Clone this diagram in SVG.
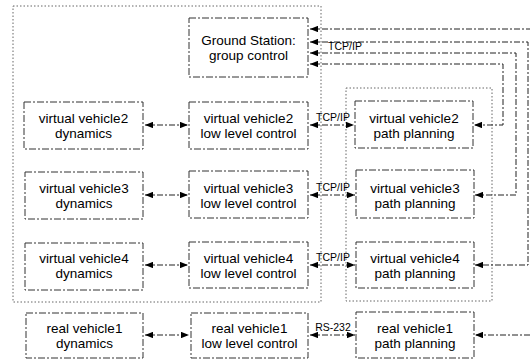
<svg xmlns="http://www.w3.org/2000/svg" width="530" height="360" viewBox="0 0 530 360">
<style>
.bg{fill:#fff}
.box{fill:#fff;stroke:#333;stroke-width:1;stroke-dasharray:7 2 2 2}
.grp{fill:none;stroke:#666;stroke-width:1;stroke-dasharray:1.5 2}
.lbl{font-family:"Liberation Sans",Arial,Helvetica,sans-serif;font-size:13.5px;fill:#000;text-anchor:middle}
.sm{font-family:"Liberation Sans",Arial,Helvetica,sans-serif;font-size:10.5px;fill:#000;text-anchor:middle}
.con{fill:none;stroke:#222;stroke-width:1;stroke-dasharray:6 2 2 2}
</style>
<defs>
<marker id="ah" viewBox="0 0 10 8" refX="10" refY="4" markerWidth="8" markerHeight="6.5" markerUnits="userSpaceOnUse" orient="auto-start-reverse">
<path d="M0,0 L10,4 L0,8 z" fill="#000"/>
</marker>
</defs>
<rect class="bg" x="0" y="0" width="530" height="360"/>
<g id="groups">
<rect class="grp" x="13" y="6" width="308" height="296"/>
<rect class="grp" x="346" y="88" width="146" height="213"/>
</g>
<g id="ground-station">
<rect class="box" x="189" y="18" width="119" height="59"/>
<text class="lbl" x="248.5" y="44.5">Ground Station:</text>
<text class="lbl" x="248.5" y="60">group control</text>
</g>
<g id="vv2-dyn"><rect class="box" x="24" y="102" width="119" height="47"/><text class="lbl" x="83.5" y="122.5">virtual vehicle2</text><text class="lbl" x="83.5" y="138">dynamics</text></g>
<g id="vv2-llc"><rect class="box" x="189" y="102" width="119" height="47"/><text class="lbl" x="248.5" y="122.5">virtual vehicle2</text><text class="lbl" x="248.5" y="138">low level control</text></g>
<g id="vv2-pp"><rect class="box" x="355" y="101" width="118" height="47"/><text class="lbl" x="414" y="122.5">virtual vehicle2</text><text class="lbl" x="414" y="138">path planning</text></g>
<g id="vv3-dyn"><rect class="box" x="25" y="172" width="118" height="47"/><text class="lbl" x="84" y="192.5">virtual vehicle3</text><text class="lbl" x="84" y="208">dynamics</text></g>
<g id="vv3-llc"><rect class="box" x="189" y="171" width="119" height="47"/><text class="lbl" x="248.5" y="192.5">virtual vehicle3</text><text class="lbl" x="248.5" y="208">low level control</text></g>
<g id="vv3-pp"><rect class="box" x="356" y="170" width="118" height="48"/><text class="lbl" x="415" y="192.5">virtual vehicle3</text><text class="lbl" x="415" y="208">path planning</text></g>
<g id="vv4-dyn"><rect class="box" x="25" y="243" width="118" height="47"/><text class="lbl" x="84" y="262.5">virtual vehicle4</text><text class="lbl" x="84" y="278">dynamics</text></g>
<g id="vv4-llc"><rect class="box" x="189" y="242" width="119" height="46"/><text class="lbl" x="248.5" y="262.5">virtual vehicle4</text><text class="lbl" x="248.5" y="278">low level control</text></g>
<g id="vv4-pp"><rect class="box" x="356" y="242" width="118" height="46"/><text class="lbl" x="415" y="262.5">virtual vehicle4</text><text class="lbl" x="415" y="278">path planning</text></g>
<g id="rv1-dyn"><rect class="box" x="26" y="313" width="117" height="45"/><text class="lbl" x="84.5" y="332.5">real vehicle1</text><text class="lbl" x="84.5" y="348">dynamics</text></g>
<g id="rv1-llc"><rect class="box" x="191" y="313" width="117" height="45"/><text class="lbl" x="249.5" y="332.5">real vehicle1</text><text class="lbl" x="249.5" y="348">low level control</text></g>
<g id="rv1-pp"><rect class="box" x="356" y="312" width="118" height="46"/><text class="lbl" x="415" y="332.5">real vehicle1</text><text class="lbl" x="415" y="348">path planning</text></g>
<g id="connectors">
<path class="con" d="M145,125 H188" marker-start="url(#ah)" marker-end="url(#ah)"/>
<path class="con" d="M145,195 H188" marker-start="url(#ah)" marker-end="url(#ah)"/>
<path class="con" d="M145,265 H188" marker-start="url(#ah)" marker-end="url(#ah)"/>
<path class="con" d="M145,335 H189" marker-start="url(#ah)" marker-end="url(#ah)"/>
<path class="con" d="M310,125 H354" marker-start="url(#ah)" marker-end="url(#ah)"/>
<path class="con" d="M310,195 H355" marker-start="url(#ah)" marker-end="url(#ah)"/>
<path class="con" d="M310,265 H355" marker-start="url(#ah)" marker-end="url(#ah)"/>
<path class="con" d="M310,335 H355" marker-start="url(#ah)" marker-end="url(#ah)"/>
<text class="sm" x="333" y="121">TCP/IP</text>
<text class="sm" x="333" y="191">TCP/IP</text>
<text class="sm" x="333" y="261">TCP/IP</text>
<text class="sm" x="333" y="331">RS-232</text>
<path class="con" d="M310,29 H530" marker-start="url(#ah)"/>
<path class="con" d="M310,42 H528 V265 H475" marker-start="url(#ah)" marker-end="url(#ah)"/>
<path class="con" d="M310,53 H516 V195 H475" marker-start="url(#ah)" marker-end="url(#ah)"/>
<path class="con" d="M310,64 H503 V125 H474" marker-start="url(#ah)" marker-end="url(#ah)"/>
<path class="con" d="M530,335 H475" marker-end="url(#ah)"/>
<text class="sm" x="345" y="50">TCP/IP</text>
</g>
</svg>
